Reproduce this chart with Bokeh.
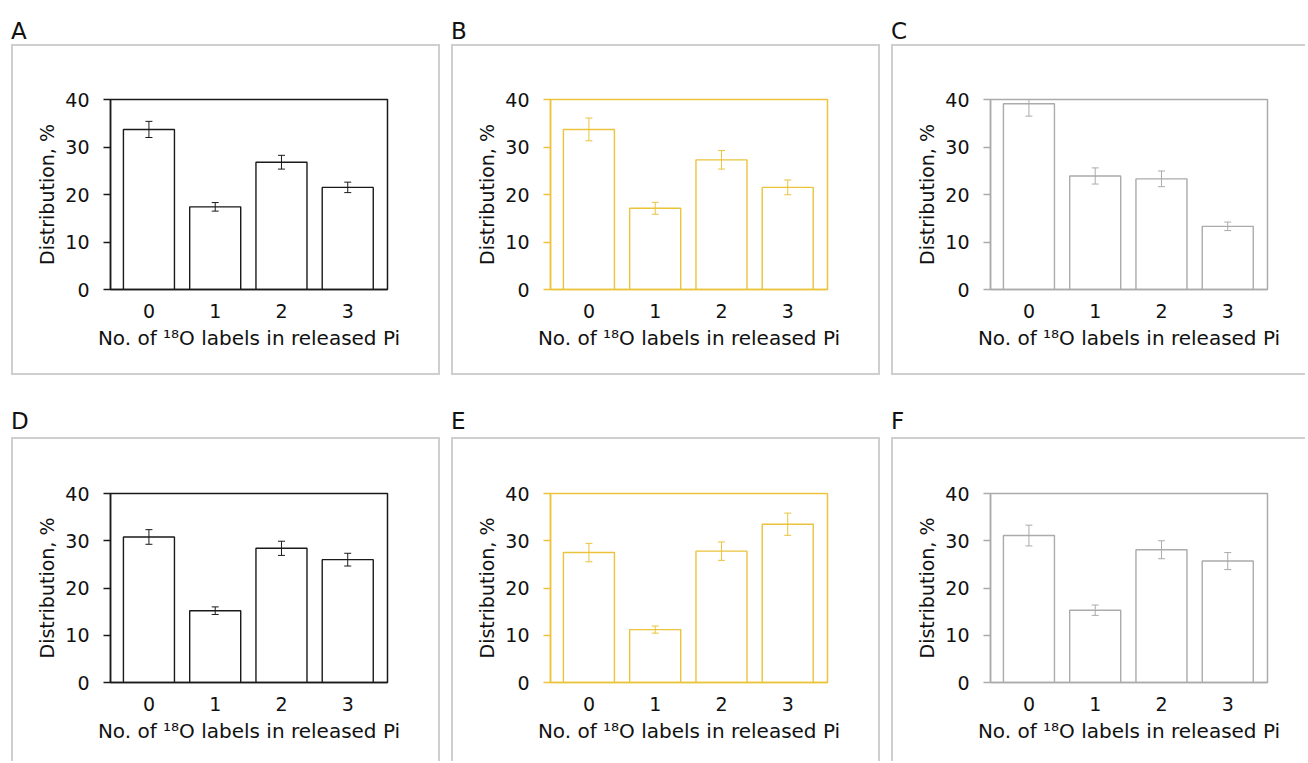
from bokeh.plotting import figure
from bokeh.models import Div, Range1d, FixedTicker, ColumnDataSource
from bokeh.layouts import row, column
from bokeh.embed import file_html
from bokeh.resources import INLINE

# ---------------- data ----------------
categories = [0, 1, 2, 3]
x_tick_labels = ["0", "1", "2", "3"]
y_ticks = [0, 10, 20, 30, 40]
panel_letters = ["A", "B", "C", "D", "E", "F"]

values_A = [33.7, 17.4, 26.8, 21.5]
errors_A = [1.7, 0.9, 1.45, 1.1]
values_B = [33.7, 17.1, 27.3, 21.5]
errors_B = [2.4, 1.25, 1.95, 1.55]
values_C = [39.1, 23.9, 23.3, 13.3]
errors_C = [2.6, 1.7, 1.65, 0.9]
values_D = [30.8, 15.2, 28.4, 26.0]
errors_D = [1.55, 0.8, 1.5, 1.35]
values_E = [27.5, 11.2, 27.8, 33.5]
errors_E = [1.95, 0.75, 1.95, 2.35]
values_F = [31.1, 15.3, 28.1, 25.7]
errors_F = [2.2, 1.1, 1.9, 1.8]

x_label = "No. of \u00b9\u2078O labels in released Pi"
y_label = "Distribution, %"

BLACK = "#1a1a1a"
GOLD = "#EBC33C"
GRAY = "#ABABAB"
TEXT = "#111111"
FONT = "DejaVu Sans"
BOX = "#cfcfcf"


def make_panel(vals, errs, color, width, height, top_b, bot_b, right_b, bottom_border=True, right_border=True):
    p = figure(width=width, height=height, output_backend="svg", toolbar_location=None,
               x_range=Range1d(-0.58, 3.6), y_range=Range1d(0, 40),
               min_border_left=97, min_border_right=right_b,
               min_border_top=top_b, min_border_bottom=bot_b)
    p.xgrid.visible = False
    p.ygrid.visible = False
    p.outline_line_color = color
    p.outline_line_width = 1.5
    p.outline_line_alpha = 1.0
    p.background_fill_color = "white"
    p.border_fill_color = "white"

    src = ColumnDataSource(dict(
        x=categories, top=vals,
        lo=[v - e for v, e in zip(vals, errs)],
        hi=[v + e for v, e in zip(vals, errs)],
    ))
    p.vbar(x="x", top="top", bottom=0, width=0.77, source=src,
           fill_color="white", line_color=color, line_width=1.4)
    p.segment(x0="x", y0="lo", x1="x", y1="hi", source=src, line_color=color, line_width=1)
    p.scatter(x="x", y="lo", source=src, marker="dash", size=7, line_color=color, line_width=1)
    p.scatter(x="x", y="hi", source=src, marker="dash", size=7, line_color=color, line_width=1)

    ya = p.yaxis[0]
    ya.ticker = FixedTicker(ticks=y_ticks)
    ya.major_tick_out = 7
    ya.major_tick_in = 0
    ya.minor_tick_out = 0
    ya.minor_tick_in = 0
    ya.axis_line_color = color
    ya.axis_line_width = 1.5
    ya.major_tick_line_color = color
    ya.major_tick_line_width = 1.5
    ya.major_label_text_font = FONT
    ya.major_label_text_font_size = "19px"
    ya.major_label_text_color = TEXT
    ya.major_label_standoff = 14
    ya.axis_label = y_label
    ya.axis_label_text_font = FONT
    ya.axis_label_text_font_size = "19px"
    ya.axis_label_text_font_style = "normal"
    ya.axis_label_text_color = TEXT
    ya.axis_label_standoff = 4

    xa = p.xaxis[0]
    xa.ticker = FixedTicker(ticks=categories)
    xa.major_label_overrides = {c: l for c, l in zip(categories, x_tick_labels)}
    xa.major_tick_out = 0
    xa.major_tick_in = 0
    xa.minor_tick_out = 0
    xa.minor_tick_in = 0
    xa.axis_line_color = color
    xa.axis_line_width = 1.5
    xa.major_label_text_font = FONT
    xa.major_label_text_font_size = "19px"
    xa.major_label_text_color = TEXT
    xa.major_label_standoff = 14
    xa.axis_label = x_label
    xa.axis_label_text_font = FONT
    xa.axis_label_text_font_size = "20px"
    xa.axis_label_text_font_style = "normal"
    xa.axis_label_text_color = TEXT
    xa.axis_label_standoff = 5

    st = {"border-top": f"2px solid {BOX}", "border-left": f"2px solid {BOX}"}
    st["border-right"] = f"2px solid {BOX}" if right_border else "none"
    st["border-bottom"] = f"2px solid {BOX}" if bottom_border else "none"
    p.styles = st
    return p


def label_div(letter, width, height, pad):
    return Div(text=f'<div style="font-family:\'{FONT}\';font-size:23px;line-height:23px;'
                    f'color:{TEXT};padding-top:{pad}px;margin:0">{letter}</div>',
               width=width, height=height, margin=(0, 0, 0, 0))


panels_top = [(values_A, errors_A, BLACK), (values_B, errors_B, GOLD), (values_C, errors_C, GRAY)]
panels_bot = [(values_D, errors_D, BLACK), (values_E, errors_E, GOLD), (values_F, errors_F, GRAY)]

widths = [429, 429, 414]
rights = [55, 55, 40]
right_borders = [True, True, False]

top_figs = []
for (v, e, c), w, rb, rbo in zip(panels_top, widths, rights, right_borders):
    top_figs.append(make_panel(v, e, c, w, 331, 53, 88, rb, bottom_border=True, right_border=rbo))
bot_figs = []
for (v, e, c), w, rb, rbo in zip(panels_bot, widths, rights, right_borders):
    bot_figs.append(make_panel(v, e, c, w, 324, 54, 81, rb, bottom_border=False, right_border=rbo))

top_labels = [label_div(panel_letters[i], widths[i], 44, 20) for i in range(3)]
bot_labels = [label_div(panel_letters[3 + i], widths[i], 62, 35) for i in range(3)]

layout = column(
    row(*top_labels, spacing=11),
    row(*top_figs, spacing=11),
    row(*bot_labels, spacing=11),
    row(*bot_figs, spacing=11),
    spacing=0, margin=(0, 0, 0, 11),
)

open("out.html", "w").write(file_html(layout, INLINE))
